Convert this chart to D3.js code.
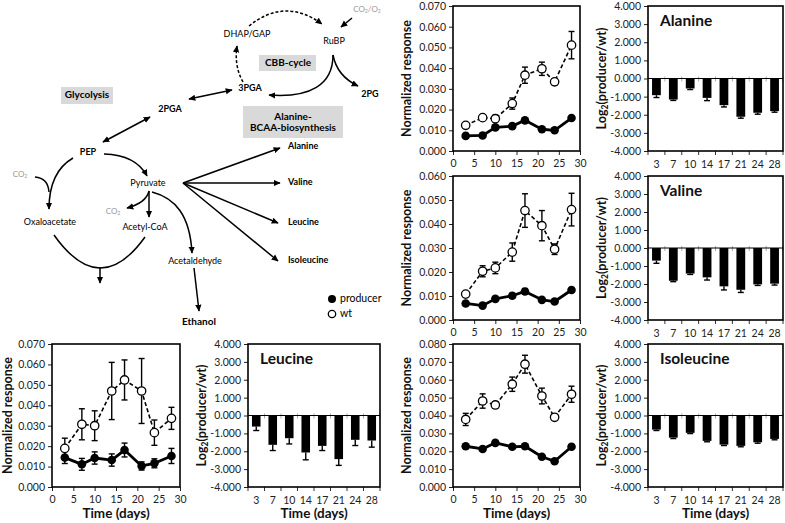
<!DOCTYPE html>
<html><head><meta charset="utf-8">
<script src="https://cdn.jsdelivr.net/npm/d3@7"></script>
<style>
body{margin:0;background:#fff}
svg{display:block}
text{font-family:Lato,'Open Sans',sans-serif}
</style>
</head><body>
<svg id="c" width="785" height="523"></svg>
<script>
// ---------------- DATA ----------------
const days = [3,7,10,14,17,21,24,28];
const dayLabels = ["3","7","10","14","17","21","24","28"];
const timeTicks = [0,5,10,15,20,25,30];
const log2Ticks = [-4,-3,-2,-1,0,1,2,3,4];

const alanineWt      = [0.0124,0.0161,0.0156,0.0229,0.0366,0.0397,0.0334,0.0511];
const alanineWtErr   = [0.0008,0.0006,0.0016,0.0027,0.0039,0.0032,0.0014,0.0066];
const alanineProd    = [0.0073,0.0075,0.0114,0.0120,0.0148,0.0105,0.0100,0.0159];
const alanineProdErr = [0.0005,0.0005,0.0008,0.0006,0.0006,0.0005,0.0005,0.0006];

const valineWt      = [0.0108,0.0203,0.0217,0.0283,0.0456,0.0393,0.0295,0.0460];
const valineWtErr   = [0.0008,0.0023,0.0024,0.0038,0.0070,0.0063,0.0022,0.0068];
const valineProd    = [0.0069,0.0060,0.0088,0.0101,0.0119,0.0084,0.0077,0.0125];
const valineProdErr = [0.0005,0.0004,0.0006,0.0010,0.0012,0.0006,0.0005,0.0006];

const isoleucineWt      = [0.0378,0.0481,0.0459,0.0575,0.0687,0.0509,0.0390,0.0519];
const isoleucineWtErr   = [0.0034,0.0040,0.0015,0.0040,0.0050,0.0044,0.0015,0.0045];
const isoleucineProd    = [0.0228,0.0213,0.0247,0.0225,0.0228,0.0169,0.0144,0.0225];
const isoleucineProdErr = [0.0008,0.0008,0.0008,0.0008,0.0008,0.0008,0.0008,0.0008];

const leucineWt      = [0.0189,0.0307,0.0300,0.0470,0.0524,0.0470,0.0266,0.0336];
const leucineWtErr   = [0.0050,0.0076,0.0073,0.0140,0.0098,0.0159,0.0062,0.0054];
const leucineProd    = [0.0144,0.0111,0.0142,0.0132,0.0181,0.0103,0.0116,0.0152];
const leucineProdErr = [0.0029,0.0029,0.0030,0.0030,0.0034,0.0020,0.0022,0.0037];

const alanineLog2       = [-0.92,-1.16,-0.55,-1.07,-1.47,-2.11,-1.89,-1.80];
const alanineLog2Err    = [0.13,0.05,0.06,0.15,0.10,0.08,0.08,0.06];
const valineLog2        = [-0.70,-1.82,-1.42,-1.63,-2.13,-2.32,-2.02,-1.98];
const valineLog2Err     = [0.15,0.05,0.05,0.15,0.20,0.15,0.06,0.08];
const isoleucineLog2    = [-0.79,-1.24,-0.97,-1.42,-1.63,-1.70,-1.50,-1.31];
const isoleucineLog2Err = [0.05,0.05,0.04,0.05,0.05,0.05,0.05,0.05];
const leucineLog2       = [-0.62,-1.64,-1.27,-2.07,-1.70,-2.44,-1.36,-1.40];
const leucineLog2Err    = [0.22,0.32,0.32,0.41,0.26,0.35,0.32,0.37];

// ---------------- DRAW ----------------
const svg = d3.select('#c');
svg.append('rect').attr('width',785).attr('height',523).attr('fill','#fff');

const defs = svg.append('defs');
defs.append('marker').attr('id','ah').attr('viewBox','0 0 10 10').attr('refX',9).attr('refY',5)
  .attr('markerWidth',7).attr('markerHeight',7).attr('markerUnits','userSpaceOnUse').attr('orient','auto-start-reverse')
  .append('path').attr('d','M0,0.5 L10,5 L0,9.5 Z').attr('fill','#000');

function yTitle(g, x, y, parts){
  const t = g.append('text').attr('transform',`translate(${x},${y}) rotate(-90)`)
    .attr('text-anchor','middle').attr('dominant-baseline','middle')
    .attr('font-weight','bold').attr('font-size',12.5).attr('fill','#111');
  parts.forEach(p=>{
    const s = t.append('tspan').text(p.t);
    if(p.sub){ s.attr('font-size',8.5).attr('dy',3); }
    if(p.after){ s.attr('dy',-3); }
  });
}

function lineChart(cfg){
  const {x0,y0,w,h,ymax,wt,wtErr,prod,prodErr,xTitle} = cfg;
  const g = svg.append('g');
  const x = d3.scaleLinear().domain([0,30]).range([x0,x0+w]);
  const y = d3.scaleLinear().domain([0,ymax]).range([y0+h,y0]);
  const yt = d3.range(0, ymax+1e-9, 0.01);
  const ya = g.append('g').attr('transform',`translate(${x0},0)`)
    .call(d3.axisLeft(y).tickValues(yt).tickFormat(d=>d.toFixed(3)).tickSize(4).tickPadding(3));
  const xa = g.append('g').attr('transform',`translate(0,${y0+h})`)
    .call(d3.axisBottom(x).tickValues(timeTicks).tickFormat(d=>d).tickSize(4).tickPadding(5));
  [ya,xa].forEach(a=>{
    a.select('.domain').remove();
    a.selectAll('line').attr('stroke','#222').attr('stroke-width',1);
    a.selectAll('text').attr('font-size',10.5).attr('fill','#222').style('font-family','Lato,sans-serif');
  });
  g.append('rect').attr('x',x0).attr('y',y0).attr('width',w).attr('height',h)
    .attr('fill','none').attr('stroke','#000').attr('stroke-width',1.6);
  yTitle(g, Math.max(x0-45, 8.5), y0+h/2, [{t:'Normalized response'}]);
  if(xTitle){
    g.append('text').attr('x',x0+w/2).attr('y',y0+h+28).attr('text-anchor','middle')
      .attr('dominant-baseline','middle').attr('font-weight','bold').attr('font-size',13.5).attr('fill','#111').text('Time (days)');
  }
  const line = d3.line().x((d,i)=>x(days[i])).y(d=>y(d));
  g.append('path').datum(wt).attr('d',line).attr('fill','none').attr('stroke','#000')
    .attr('stroke-width',1.6).attr('stroke-dasharray','4,2.5');
  g.append('path').datum(prod).attr('d',line).attr('fill','none').attr('stroke','#000')
    .attr('stroke-width',2.8).attr('stroke-linejoin','round');
  function errs(vals, e){
    vals.forEach((v,i)=>{
      const cx = x(days[i]);
      const a = y(v+e[i]), b = y(v-e[i]);
      g.append('line').attr('x1',cx).attr('x2',cx).attr('y1',a).attr('y2',b).attr('stroke','#000').attr('stroke-width',1.4);
      [a,b].forEach(yy=>g.append('line').attr('x1',cx-3).attr('x2',cx+3).attr('y1',yy).attr('y2',yy).attr('stroke','#000').attr('stroke-width',1.4));
    });
  }
  errs(wt, wtErr);
  errs(prod, prodErr);
  g.selectAll(null).data(wt).enter().append('circle')
    .attr('cx',(d,i)=>x(days[i])).attr('cy',d=>y(d)).attr('r',4.2)
    .attr('fill','#fff').attr('stroke','#000').attr('stroke-width',1.3);
  g.selectAll(null).data(prod).enter().append('circle')
    .attr('cx',(d,i)=>x(days[i])).attr('cy',d=>y(d)).attr('r',4.3).attr('fill','#000');
}

function barChart(cfg){
  const {x0,y0,w,h,vals,errs,title,xTitle} = cfg;
  const g = svg.append('g');
  const x = d3.scaleBand().domain(dayLabels).range([x0,x0+w]).paddingInner(0.48).paddingOuter(0.24);
  const y = d3.scaleLinear().domain([-4,4]).range([y0+h,y0]);
  const ya = g.append('g').attr('transform',`translate(${x0},0)`)
    .call(d3.axisLeft(y).tickValues(log2Ticks).tickFormat(d=>d.toFixed(3)).tickSize(4).tickPadding(3));
  const xa = g.append('g').attr('transform',`translate(0,${y0+h})`)
    .call(d3.axisBottom(x).tickSize(0).tickPadding(10));
  [ya,xa].forEach(a=>{
    a.select('.domain').remove();
    a.selectAll('line').attr('stroke','#222').attr('stroke-width',1);
    a.selectAll('text').attr('font-size',10.5).attr('fill','#222').style('font-family','Lato,sans-serif');
  });
  const bounds = d3.range(0,9).map(i=>x0 + i*w/8);
  bounds.forEach(bx=>{
    g.append('line').attr('x1',bx).attr('x2',bx).attr('y1',y0+h).attr('y2',y0+h+4).attr('stroke','#333').attr('stroke-width',1);
    g.append('line').attr('x1',bx).attr('x2',bx).attr('y1',y(0)-2).attr('y2',y(0)+3).attr('stroke','#aaa').attr('stroke-width',1);
  });
  g.append('line').attr('x1',x0).attr('x2',x0+w).attr('y1',y(0)).attr('y2',y(0)).attr('stroke','#000').attr('stroke-width',1);
  g.selectAll(null).data(vals).enter().append('rect')
    .attr('x',(d,i)=>x(dayLabels[i])).attr('width',x.bandwidth())
    .attr('y',d=>y(Math.max(0,d))).attr('height',d=>Math.abs(y(d)-y(0))).attr('fill','#000');
  vals.forEach((v,i)=>{
    const cx = x(dayLabels[i]) + x.bandwidth()/2;
    const b = y(v-errs[i]);
    g.append('line').attr('x1',cx).attr('x2',cx).attr('y1',y(v)).attr('y2',b).attr('stroke','#000').attr('stroke-width',1.4);
    g.append('line').attr('x1',cx-3).attr('x2',cx+3).attr('y1',b).attr('y2',b).attr('stroke','#000').attr('stroke-width',1.4);
  });
  g.append('rect').attr('x',x0).attr('y',y0).attr('width',w).attr('height',h)
    .attr('fill','none').attr('stroke','#000').attr('stroke-width',1.6);
  yTitle(g, x0-45, y0+h/2, [{t:'Log'},{t:'2',sub:true},{t:'(producer/wt)',after:true}]);
  g.append('text').attr('x',x0+12).attr('y',y0+16).attr('dominant-baseline','middle')
    .attr('font-weight','bold').attr('font-size',15.5).attr('fill','#111').text(title);
  if(xTitle){
    g.append('text').attr('x',x0+w/2).attr('y',y0+h+28).attr('text-anchor','middle')
      .attr('dominant-baseline','middle').attr('font-weight','bold').attr('font-size',13.5).attr('fill','#111').text('Time (days)');
  }
}

lineChart({x0:453,y0:6,w:127,h:145,ymax:0.07,wt:alanineWt,wtErr:alanineWtErr,prod:alanineProd,prodErr:alanineProdErr});
lineChart({x0:453,y0:176,w:127,h:144,ymax:0.06,wt:valineWt,wtErr:valineWtErr,prod:valineProd,prodErr:valineProdErr});
lineChart({x0:453,y0:344,w:127,h:143,ymax:0.08,wt:isoleucineWt,wtErr:isoleucineWtErr,prod:isoleucineProd,prodErr:isoleucineProdErr,xTitle:true});
lineChart({x0:52,y0:344,w:128,h:143,ymax:0.07,wt:leucineWt,wtErr:leucineWtErr,prod:leucineProd,prodErr:leucineProdErr,xTitle:true});

barChart({x0:648,y0:6,w:135,h:145,vals:alanineLog2,errs:alanineLog2Err,title:'Alanine'});
barChart({x0:648,y0:176,w:135,h:144,vals:valineLog2,errs:valineLog2Err,title:'Valine'});
barChart({x0:648,y0:344,w:135,h:143,vals:isoleucineLog2,errs:isoleucineLog2Err,title:'Isoleucine',xTitle:true});
barChart({x0:248,y0:344,w:132,h:143,vals:leucineLog2,errs:leucineLog2Err,title:'Leucine',xTitle:true});

// ---------------- PATHWAY DIAGRAM ----------------
const dg = svg.append('g');
function box(x,y,w,h){ dg.append('rect').attr('x',x).attr('y',y).attr('width',w).attr('height',h).attr('fill','#d9d9d9'); }
function label(t,x,y,opt={}){
  const e = dg.append('text').attr('x',x).attr('y',y).attr('dominant-baseline','middle')
    .attr('text-anchor',opt.anchor||'middle').attr('font-size',opt.size||9)
    .attr('font-weight',opt.bold?'bold':'normal').attr('fill',opt.fill||'#000');
  if(opt.parts){
    opt.parts.forEach(p=>{
      const s = e.append('tspan').text(p.t);
      if(p.sub) s.attr('font-size',(opt.size||9)*0.65).attr('dy',2);
      if(p.up) s.attr('dy',-2);
    });
  } else e.text(t);
  return e;
}
function arrow(d,opt={}){
  const p = dg.append('path').attr('d',d).attr('fill','none').attr('stroke','#000').attr('stroke-width',1.5);
  if(opt.dash) p.attr('stroke-dasharray','3,2');
  if(opt.end!==false) p.attr('marker-end','url(#ah)');
  if(opt.start) p.attr('marker-start','url(#ah)');
}

box(259,55,57,16);
box(61,87,52,17);
box(243,106,100,32);

label('',367,10,{size:8,fill:'#999',parts:[{t:'CO'},{t:'2',sub:true},{t:'/O',up:true},{t:'2',sub:true}]});
label('RuBP',334,42);
label('DHAP/GAP',247,35);
label('CBB-cycle',288,63,{bold:true,size:10});
label('3PGA',250,89,{bold:true});
label('2PG',370,95,{bold:true});
label('Glycolysis',87,95.5,{bold:true,size:10});
label('2PGA',170,110,{bold:true});
label('Alanine-',293,117,{bold:true,size:10});
label('BCAA-biosynthesis',293,128.5,{bold:true,size:10});
label('PEP',88,153,{bold:true});
label('Alanine',288,147,{bold:true,anchor:'start'});
label('Valine',288,183,{bold:true,anchor:'start'});
label('Leucine',288,223,{bold:true,anchor:'start'});
label('Isoleucine',288,261,{bold:true,anchor:'start'});
label('Pyruvate',148,184);
label('',20,175,{size:8,fill:'#999',parts:[{t:'CO'},{t:'2',sub:true}]});
label('',113,212,{size:8,fill:'#999',parts:[{t:'CO'},{t:'2',sub:true}]});
label('Oxaloacetate',50,223);
label('Acetyl-CoA',145,228);
label('Acetaldehyde',195,262);
label('Ethanol',199,322,{bold:true,size:10});

arrow('M249,26 Q285,-3 322,24',{dash:true});
arrow('M352,18 L341,27');
arrow('M243,82 Q234,66 237,46',{dash:true});
arrow('M333,55 Q337,76 358,86');
arrow('M333,55 C333,85 310,98 269,95');
arrow('M189,99 L232,90',{start:true});
arrow('M150,117 L103,142',{start:true});
arrow('M104,154 Q136,155 147,176');
arrow('M73,158 Q49,172 49,209');
arrow('M35,177 Q48,178 49,192',{end:false});
[[280,148],[280,183],[278,223],[278,261]].forEach(p=>arrow(`M183,183 L${p[0]},${p[1]}`));
arrow('M149,191 L149,217');
arrow('M149,191 Q146,203 127,208');
arrow('M152,192 C175,198 190,215 192,253');
arrow('M194,268 L199,311');
arrow('M54,235 Q100,300 145,237',{end:false});
arrow('M100,267 L100,283');

// legend
dg.append('circle').attr('cx',332).attr('cy',299).attr('r',4).attr('fill','#000');
dg.append('circle').attr('cx',332).attr('cy',314).attr('r',3.7).attr('fill','#fff').attr('stroke','#000').attr('stroke-width',1.3);
label('producer',340,299,{anchor:'start',size:10.5});
label('wt',340,314,{anchor:'start',size:10.5});
</script>
</body></html>
